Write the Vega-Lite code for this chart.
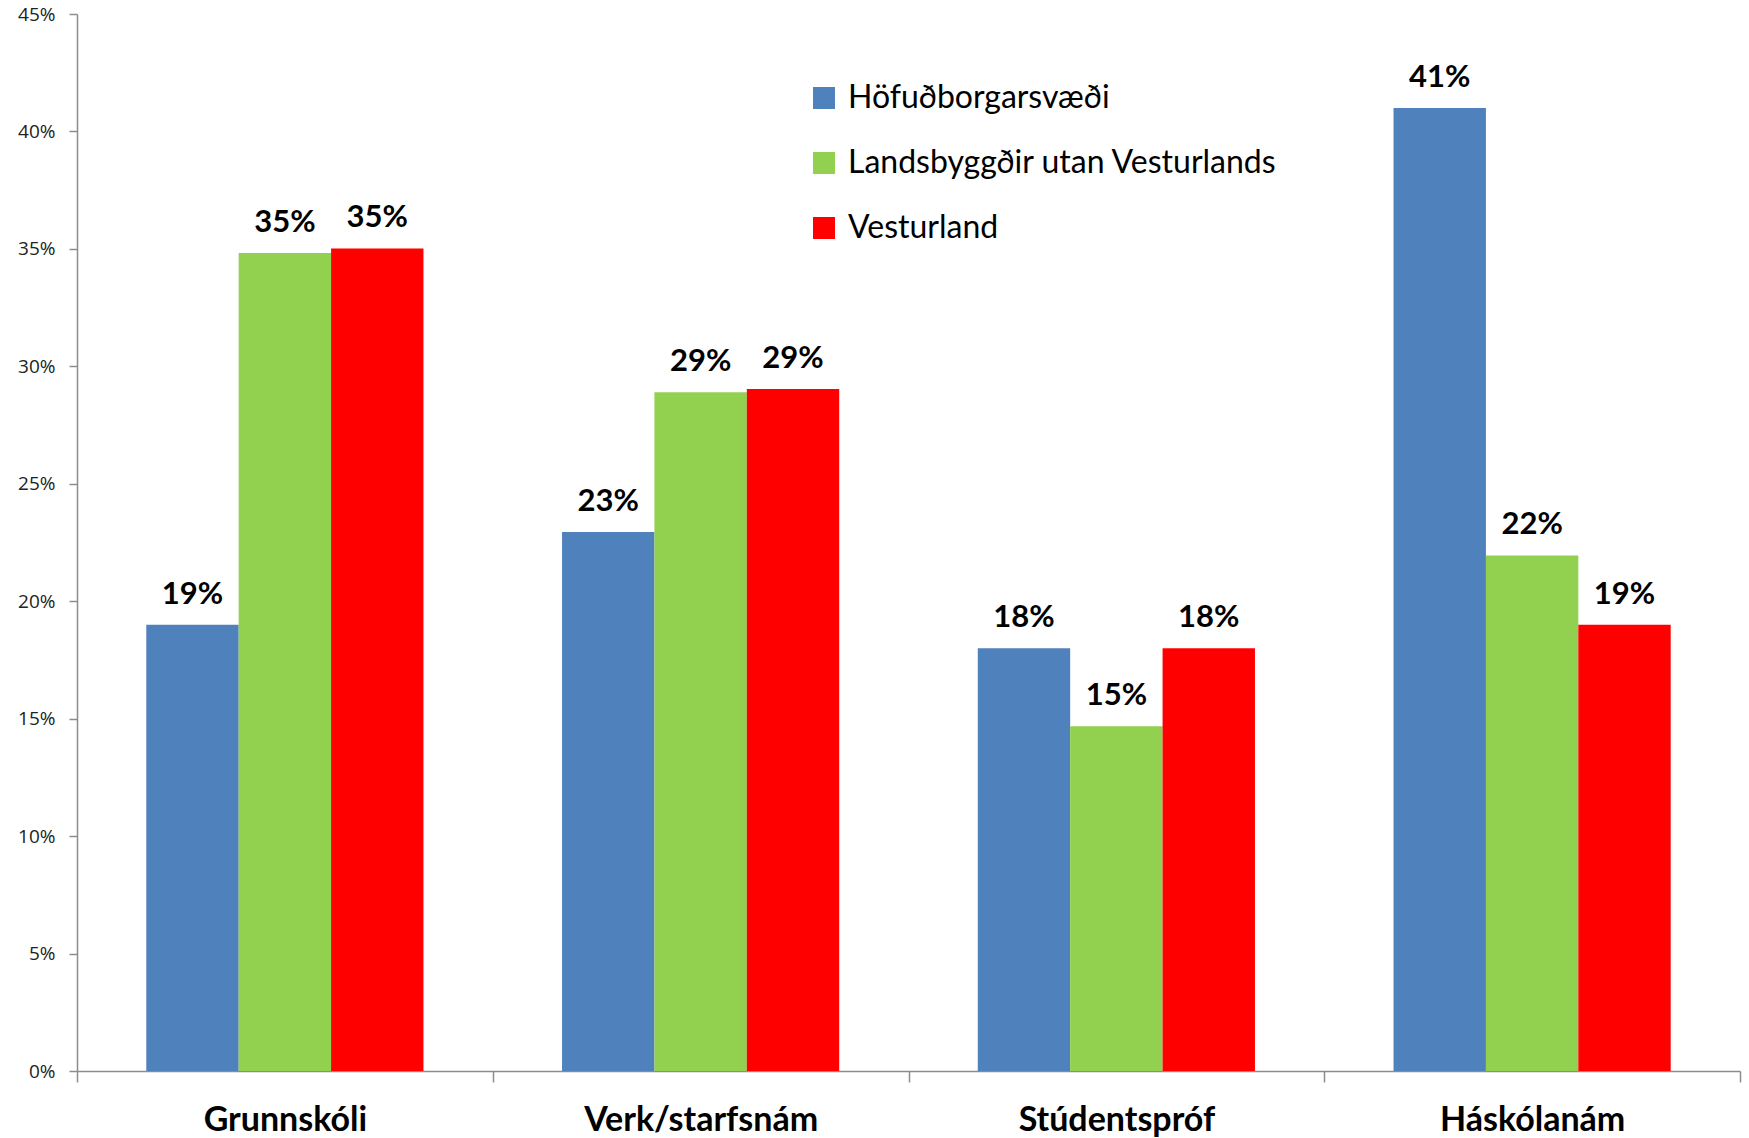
{
  "$schema": "https://vega.github.io/schema/vega-lite/v6.json",
  "width": 1663,
  "height": 1057,
  "autosize": {"type": "none"},
  "padding": {"left": 77, "top": 14, "right": 9, "bottom": 67},
  "background": "white",
  "config": {
    "view": {"stroke": null},
    "font": "Lato"
  },
  "data": {
    "values": [
      {"category": "Grunnskóli", "series": "Höfuðborgarsvæði", "value": 0.190},
      {"category": "Grunnskóli", "series": "Landsbyggðir utan Vesturlands", "value": 0.3483},
      {"category": "Grunnskóli", "series": "Vesturland", "value": 0.3502},
      {"category": "Verk/starfsnám", "series": "Höfuðborgarsvæði", "value": 0.2295},
      {"category": "Verk/starfsnám", "series": "Landsbyggðir utan Vesturlands", "value": 0.289},
      {"category": "Verk/starfsnám", "series": "Vesturland", "value": 0.2903},
      {"category": "Stúdentspróf", "series": "Höfuðborgarsvæði", "value": 0.180},
      {"category": "Stúdentspróf", "series": "Landsbyggðir utan Vesturlands", "value": 0.1468},
      {"category": "Stúdentspróf", "series": "Vesturland", "value": 0.180},
      {"category": "Háskólanám", "series": "Höfuðborgarsvæði", "value": 0.410},
      {"category": "Háskólanám", "series": "Landsbyggðir utan Vesturlands", "value": 0.2195},
      {"category": "Háskólanám", "series": "Vesturland", "value": 0.190}
    ]
  },
  "encoding": {
    "x": {
      "field": "category",
      "type": "nominal",
      "sort": ["Grunnskóli", "Verk/starfsnám", "Stúdentspróf", "Háskólanám"],
      "scale": {"paddingInner": 0, "paddingOuter": 0},
      "axis": {
        "title": null,
        "labelAngle": 0,
        "tickBand": "extent",
        "domainColor": "#8c8c8c",
        "domainWidth": 1.5,
        "tickColor": "#8c8c8c",
        "tickWidth": 1.5,
        "tickSize": 11,
        "labelFontSize": 34,
        "labelFontWeight": "bold",
        "labelColor": "#000000",
        "labelPadding": 21,
        "labelLimit": 500,
        "labelFont": "Lato"
      }
    },
    "xOffset": {
      "field": "series",
      "type": "nominal",
      "sort": ["Höfuðborgarsvæði", "Landsbyggðir utan Vesturlands", "Vesturland"],
      "scale": {"paddingInner": 0, "paddingOuter": 0.75}
    },
    "y": {
      "field": "value",
      "type": "quantitative",
      "scale": {"domain": [0, 0.45], "nice": false},
      "axis": {
        "title": null,
        "format": ".0%",
        "values": [0, 0.05, 0.1, 0.15, 0.2, 0.25, 0.3, 0.35, 0.4, 0.45],
        "grid": false,
        "domainColor": "#8c8c8c",
        "domainWidth": 1.5,
        "tickColor": "#8c8c8c",
        "tickWidth": 1.5,
        "tickSize": 8,
        "labelFontSize": 19,
        "labelColor": "#222222",
        "labelPadding": 14,
        "labelFont": "Open Sans"
      }
    }
  },
  "layer": [
    {
      "mark": {"type": "bar"},
      "encoding": {
        "color": {
          "field": "series",
          "type": "nominal",
          "sort": ["Höfuðborgarsvæði", "Landsbyggðir utan Vesturlands", "Vesturland"],
          "scale": {
            "domain": ["Höfuðborgarsvæði", "Landsbyggðir utan Vesturlands", "Vesturland"],
            "range": ["#4F81BD", "#92D050", "#FF0000"]
          },
          "legend": {
            "title": null,
            "orient": "none",
            "legendX": 731,
            "legendY": 68,
            "padding": 0,
            "symbolType": "square",
            "symbolSize": 484,
            "symbolStrokeWidth": 0,
            "symbolOpacity": 1,
            "labelFontSize": 32,
            "labelFont": "Lato",
            "labelColor": "#000000",
            "labelOffset": 8,
            "rowPadding": 33,
            "labelLimit": 600
          }
        }
      }
    },
    {
      "mark": {
        "type": "text",
        "baseline": "bottom",
        "dy": -14,
        "fontSize": 31,
        "fontWeight": "bold",
        "font": "Lato",
        "color": "#000000"
      },
      "encoding": {
        "text": {"field": "value", "type": "quantitative", "format": ".0%"}
      }
    }
  ]
}
